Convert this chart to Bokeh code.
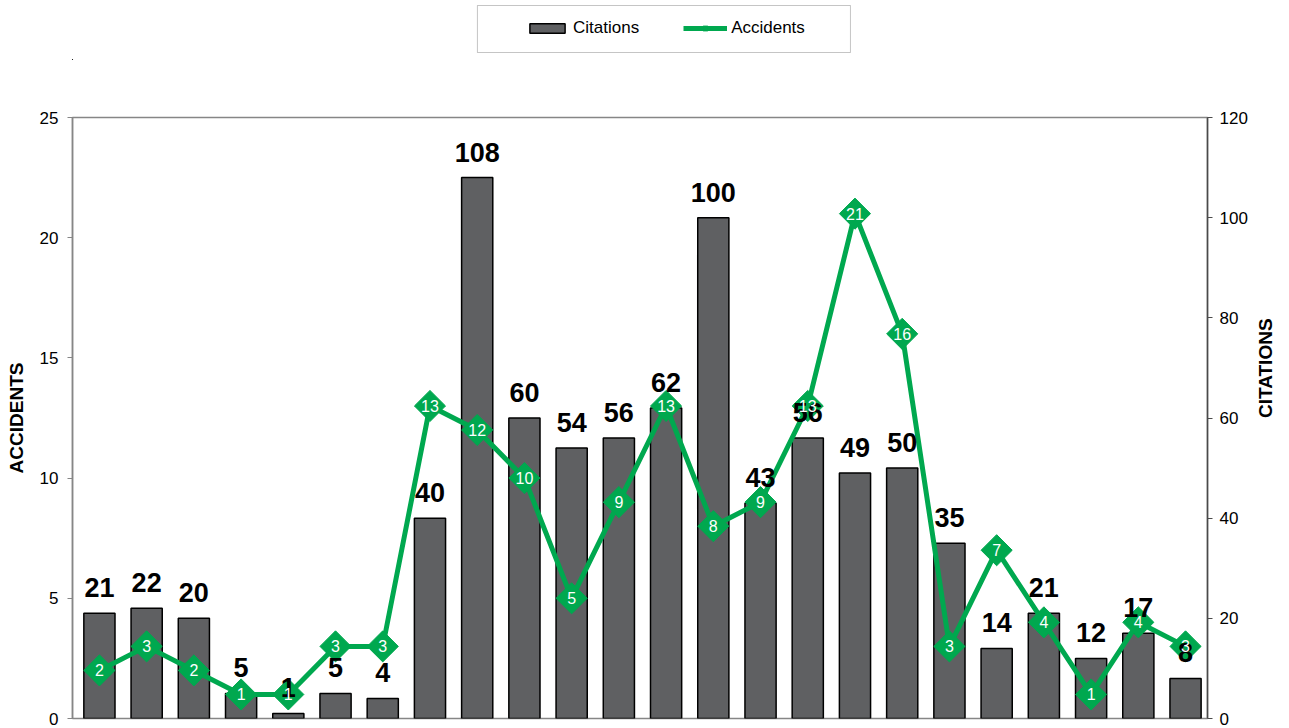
import math
from bokeh.plotting import figure
from bokeh.layouts import column
from bokeh.models import (ColumnDataSource, Range1d, LinearAxis, Legend, LegendItem,
                          FixedTicker, BoxAnnotation, LabelSet)
from bokeh.core.properties import value
from bokeh.embed import file_html
from bokeh.resources import INLINE

# ---- data ----
positions = list(range(24))
citations = [21, 22, 20, 5, 1, 5, 4, 40, 108, 60, 54, 56, 62, 100, 43, 56, 49, 50, 35, 14, 21, 12, 17, 8]
accidents = [2, 3, 2, 1, 1, 3, 3, 13, 12, 10, 5, 9, 13, 8, 9, 13, 21, 16, 3, 7, 4, 1, 4, 3]
left_ticks = [0, 5, 10, 15, 20, 25]
right_ticks = [0, 20, 40, 60, 80, 100, 120]

FONT = "Liberation Sans"
GREEN = "#00A84F"
BAR = "#5F6062"
W = 1289
LEG_H = 60
FRAME_L, FRAME_R = 72, 1210
OFF = 5000  # legend strip coordinate offset, keeps proxy marks out of view

src = ColumnDataSource(dict(
    x=positions,
    cit=citations,
    acc=accidents,
    cit_lbl=[str(v) for v in citations],
    acc_lbl=[str(v) for v in accidents],
))

p = figure(width=W, height=728 - LEG_H, output_backend="svg", toolbar_location=None,
           x_range=Range1d(-0.57, 23.465), y_range=Range1d(0, 25),
           min_border_left=FRAME_L, min_border_right=W - FRAME_R,
           min_border_top=117 - LEG_H, min_border_bottom=10)
p.title.visible = False
p.extra_y_ranges = {"cit": Range1d(0, 120)}
p.grid.visible = False
p.xaxis.visible = False
p.background_fill_color = "white"
p.border_fill_color = "white"
p.outline_line_color = "#868686"
p.outline_line_width = 1.5

# left axis
ly = p.yaxis[0]
ly.ticker = FixedTicker(ticks=left_ticks)
ly.minor_tick_line_color = None
ly.major_tick_in = 0
ly.major_tick_out = 5
ly.axis_line_color = "#868686"
ly.axis_line_width = 1.5
ly.major_tick_line_color = "#868686"
ly.major_label_standoff = 9
ly.major_label_text_font = FONT
ly.major_label_text_font_size = "17px"
ly.major_label_text_color = "black"
ly.axis_label = "ACCIDENTS"
ly.axis_label_text_font = FONT
ly.axis_label_text_font_size = "19px"
ly.axis_label_text_font_style = "bold"
ly.axis_label_text_color = "black"
ly.axis_label_standoff = 10

# right axis
ry = LinearAxis(y_range_name="cit", ticker=FixedTicker(ticks=right_ticks))
ry.minor_tick_line_color = None
ry.major_tick_in = 0
ry.major_tick_out = 5
ry.axis_line_color = "#4A4A4A"
ry.axis_line_width = 1.5
ry.major_tick_line_color = "#4A4A4A"
ry.major_label_standoff = 7
ry.major_label_text_font = FONT
ry.major_label_text_font_size = "17px"
ry.major_label_text_color = "black"
ry.axis_label = "CITATIONS"
ry.axis_label_text_font = FONT
ry.axis_label_text_font_size = "19px"
ry.axis_label_text_font_style = "bold"
ry.axis_label_text_color = "black"
ry.axis_label_standoff = 15
try:
    ry.axis_label_orientation = math.pi / 2
except Exception:
    pass
p.add_layout(ry, "right")

# bars
bars = p.vbar(x="x", top="cit", width=0.66, source=src, y_range_name="cit",
              fill_color=BAR, line_color="black", line_width=1.5)

# accidents line + diamonds
ln = p.line(x="x", y="acc", source=src, line_color=GREEN, line_width=5)
dm = p.scatter(x="x", y="acc", source=src, marker="square", angle=math.pi / 4,
               size=22, fill_color=GREEN, line_color=GREEN)

# bar value labels
p.add_layout(LabelSet(x="x", y="cit", text="cit_lbl", source=src, y_range_name="cit",
                      text_align="center", text_baseline="alphabetic", y_offset=16,
                      text_font=value(FONT), text_font_size=value("27px"),
                      text_font_style=value("bold"), text_color=value("black")))

# accident value labels
p.add_layout(LabelSet(x="x", y="acc", text="acc_lbl", source=src,
                      text_align="center", text_baseline="middle",
                      text_font=value(FONT), text_font_size=value("16px"),
                      text_color=value("white")))

# ---- legend strip (frame aligned with the chart frame) ----
lf = figure(width=W, height=LEG_H, output_backend="svg", toolbar_location=None,
            x_range=Range1d(OFF + FRAME_L, OFF + FRAME_R),
            y_range=Range1d(OFF, OFF + LEG_H),
            min_border_left=FRAME_L, min_border_right=W - FRAME_R,
            min_border_top=0, min_border_bottom=0)
lf.title.visible = False
lf.axis.visible = False
lf.grid.visible = False
lf.outline_line_color = None
lf.background_fill_color = "white"
lf.border_fill_color = "white"
# legend proxies share the chart data; their marks fall outside this strip's ranges
lb = lf.vbar(x="x", top="cit", width=1, source=src, fill_color=BAR,
             line_color="black", line_width=1.5)
ll = lf.line(x="x", y="acc", source=src, line_color=GREEN, line_width=5)
ls = lf.scatter(x="x", y="acc", source=src, marker="square", angle=math.pi / 4,
                size=8, fill_color=GREEN, line_color=GREEN)
lf.add_layout(BoxAnnotation(left=OFF + 478, right=OFF + 852, bottom=OFF + LEG_H - 52,
                            top=OFF + LEG_H - 5, fill_alpha=0,
                            line_color="#404040", line_width=1))
leg = Legend(items=[LegendItem(label="Citations", renderers=[lb]),
                    LegendItem(label="Accidents", renderers=[ll, ls])],
             location=(513 - FRAME_L, LEG_H - 50), orientation="horizontal",
             padding=12, spacing=44, glyph_width=44, glyph_height=12,
             label_standoff=4, label_text_font=FONT, label_text_font_size="17px",
             label_text_color="black", border_line_alpha=0,
             background_fill_alpha=0, margin=0)
lf.add_layout(leg, "center")

layout = column(lf, p, spacing=0)
open("out.html", "w").write(file_html(layout, INLINE))
